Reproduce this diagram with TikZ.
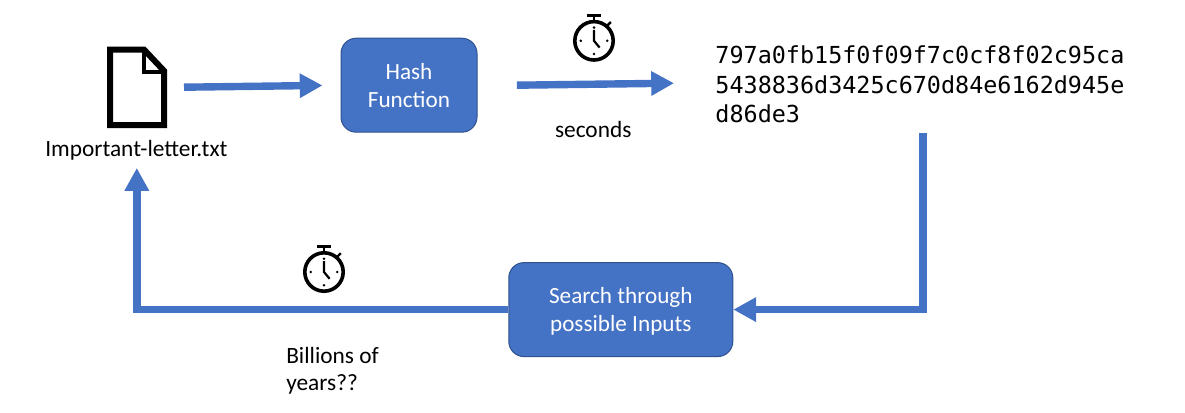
\documentclass[tikz,border=0pt]{standalone}
\usepackage{fontspec}
\setmainfont{Carlito}
\newfontfamily\hashfont{DejaVu Sans Mono}
\usetikzlibrary{arrows.meta}
\definecolor{boxblue}{HTML}{4472C4}
\definecolor{boxedge}{HTML}{2F528F}
\tikzset{
    flowbox/.style={draw=boxedge, line width=.25mm, fill=boxblue, rounded corners=3.8mm, text=white, text depth=0pt, align=center, font=\fontsize{16.5}{19.8}\selectfont},
    flowarrow/.style={draw=boxblue, line width=1.85mm, -{Triangle[length=5.7mm, width=5.8mm]}},
    plainlabel/.style={font=\fontsize{16.6}{19.2}\selectfont, inner sep=0pt},
    stopwatch/.pic={
        \draw[line width=.9mm] (0,0) circle(.48);
        \draw[line width=.75mm] (-.18,.64) -- (.18,.64);
        \draw[line width=.6mm] (0,.64) -- (0,.5);
        \draw[line width=.6mm] (.33,.38) -- (.42,.47);
        \draw[line width=.55mm] (0,.27) -- (0,0) -- (.14,-.17);
        \foreach \a in {0,90,...,270}{
            \fill ({.33*cos(\a)}, {.33*sin(\a)}) circle(.35mm);
        }
    }
}
\begin{document}
\begin{tikzpicture}
    \useasboundingbox (0,0) rectangle (29.625,10.3);
    % file icon
    \draw[line width=1.5mm, miter limit=10] (2.75,7.17) -- (2.75,9.06) -- (3.6,9.06) -- (4.1,8.53) -- (4.1,7.17) -- cycle;
    \draw[line width=1.2mm] (3.6,9.06) -- (3.6,8.5) -- (4.1,8.5);
    \node[plainlabel] (letterlabel) at (3.41,6.55) {Important-letter.txt};
    % boxes
    \node[flowbox, minimum width=3.4cm, minimum height=2.35cm] (hash) at (10.225,8.17) {Hash\\Function};
    \node[flowbox, minimum width=5.6cm, minimum height=2.35cm] (search) at (15.52,2.56) {Search through\\possible Inputs};
    \node[anchor=west, inner sep=0pt, align=left, font=\hashfont\fontsize{16.66}{21}\selectfont] (digest) at (17.88,8.19) {797a0fb15f0f09f7c0cf8f02c95ca\\5438836d3425c670d84e6162d945e\\d86de3};
    \node[plainlabel] (seconds) at (14.83,7.07) {seconds};
    \node[plainlabel, anchor=north west, align=left] (billions) at (7.15,1.62) {Billions of\\years??};
    % timers
    \pic at (14.85,9.28) {stopwatch};
    \pic at (8.1,3.5) {stopwatch};
    % arrows
    \coordinate (fileout) at (4.6,8.12);
    \coordinate (hashout) at (12.92,8.17);
    \coordinate (digestin) at (16.85,8.22);
    \coordinate (digestout) at (23.07,6.98);
    \coordinate (letterin) at (3.42,6.1);
    \draw[flowarrow, shorten >=.45cm] (fileout) -- (hash.west);
    \draw[flowarrow] (hashout) -- (digestin);
    \draw[flowarrow] (digestout) -- (digestout |- search.east) -- (search.east);
    \draw[flowarrow] (search.west) -- (search.west -| letterin) -- (letterin);
\end{tikzpicture}
\end{document}
